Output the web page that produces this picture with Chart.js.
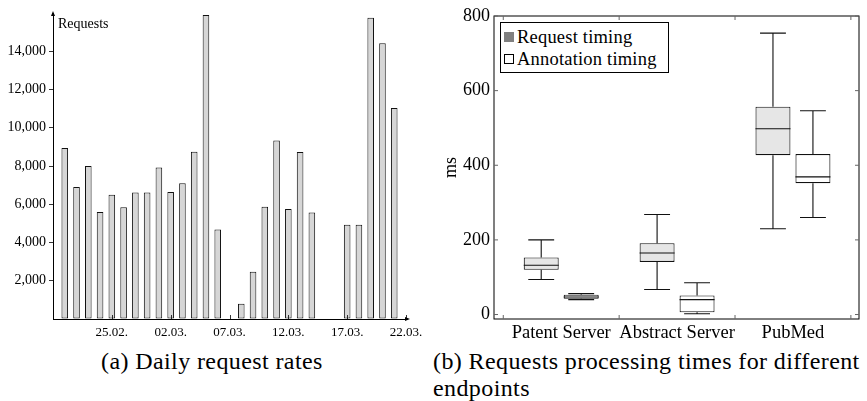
<!DOCTYPE html>
<html>
<head>
<meta charset="utf-8">
<script src="https://cdn.jsdelivr.net/npm/chart.js@4.4.1/dist/chart.umd.min.js"></script>
<style>
  html, body { margin: 0; padding: 0; background: #fff; }
  body { width: 867px; height: 401px; position: relative; overflow: hidden;
         font-family: 'Liberation Serif', 'DejaVu Serif', serif; color: #000; }
  .panel { position: absolute; top: 0; height: 345px; }
  #leftWrap { left: 0; width: 430px; }
  #rightWrap { left: 440px; width: 427px; }
  #reqLabel { position: absolute; left: 58px; top: 16px; font-size: 14px; line-height: 16px; }
  #legend { position: absolute; left: 500px; top: 22px; width: 169px; height: 51px;
            border: 1px solid #000; box-sizing: border-box; background: #fff;
            font-size: 18.5px; letter-spacing: 0.2px; padding-top: 3px; }
  #legend .row { height: 22px; line-height: 22px; white-space: nowrap; }
  #legend .sw { display: inline-block; width: 8px; height: 8px; border: 1px solid #000;
                margin: 0 3px 0 3px; vertical-align: 1px; background: #fff; }
  .caption { position: absolute; font-size: 24px; letter-spacing: 0.4px; line-height: 27px; white-space: nowrap; }
  #capA { left: 101px; top: 348px; }
  #capB { left: 433px; top: 348px; }
</style>
</head>
<body>
<div id="leftWrap" class="panel"><canvas id="requestsChart"></canvas></div>
<div id="rightWrap" class="panel"><canvas id="timingChart"></canvas></div>
<div id="reqLabel">Requests</div>
<div id="legend">
  <div class="row"><span class="sw" style="background:#808080;border-color:#808080"></span>Request timing</div>
  <div class="row"><span class="sw"></span>Annotation timing</div>
</div>
<div class="caption" id="capA">(a) Daily request rates</div>
<div class="caption" id="capB">(b) Requests processing times for different<br>endpoints</div>

<script>
// ---- (a) 每日请求量 ----
const days = [
  '20.02.', '21.02.', '22.02.', '23.02.', '24.02.', '25.02.', '26.02.', '27.02.', '28.02.',
  '01.03.', '02.03.', '03.03.', '04.03.', '05.03.', '06.03.', '07.03.', '08.03.', '09.03.',
  '10.03.', '11.03.', '12.03.', '13.03.', '14.03.', '15.03.', '16.03.', '17.03.', '18.03.',
  '19.03.', '20.03.', '21.03.', '22.03.'
];
const dailyRequests = [
  null, 8950, 6900, 8000, 5600, 6500, 5850, 6620, 6620,
  7930, 6640, 7100, 8750, 15900, 4680, null, 800, 2470,
  5870, 9340, 5750, 8740, 5570, null, null, 4930, 4930,
  15750, 14420, 11040, null
];
const shownDays = ['25.02.', '02.03.', '07.03.', '12.03.', '17.03.', '22.03.'];
const requestTicks = [0, 2000, 4000, 6000, 8000, 10000, 12000, 14000];

// ---- (b) 各端点处理时间（箱线图） ----
const endpoints = ['Patent Server', 'Abstract Server', 'PubMed'];
const reqMin    = [94, 67, 230];
const reqQ1     = [120, 141, 427];
const reqMedian = [132, 165, 498];
const reqQ3     = [153, 191, 557];
const reqMax    = [200, 268, 754];
const annMin    = [40, 2, 260];
const annQ1     = [42, 6, 352];
const annMedian = [47, 40, 369];
const annQ3     = [53, 51, 430];
const annMax    = [56, 85, 546];
const msTicks = [0, 200, 400, 600, 800];

Chart.defaults.font.family = "'Liberation Serif', 'DejaVu Serif', serif";
Chart.defaults.color = '#000';

// 左图：坐标轴箭头和向内的刻度
const axisArrows = {
  id: 'axisArrows',
  afterDraw(chart) {
    const { ctx, chartArea: { left, right, top, bottom }, scales: { x } } = chart;
    ctx.save();
    ctx.strokeStyle = '#000';
    ctx.fillStyle = '#000';
    ctx.lineWidth = 0.8;
    ctx.beginPath();
    days.forEach((d, i) => {
      if (!shownDays.includes(d)) return;
      const px = Math.round(x.getPixelForTick(i)) + 0.5;
      ctx.moveTo(px, bottom);
      ctx.lineTo(px, bottom - 4);
    });
    ctx.moveTo(left, top);
    ctx.lineTo(left, top - 2);
    ctx.moveTo(right, bottom);
    ctx.lineTo(right + 2, bottom);
    ctx.stroke();
    // 箭头
    ctx.beginPath();
    ctx.moveTo(left, top - 4);
    ctx.lineTo(left - 2, top + 1);
    ctx.lineTo(left + 2, top + 1);
    ctx.closePath();
    ctx.fill();
    ctx.beginPath();
    ctx.moveTo(right + 4, bottom);
    ctx.lineTo(right - 1, bottom - 2);
    ctx.lineTo(right - 1, bottom + 2);
    ctx.closePath();
    ctx.fill();
    ctx.restore();
  }
};

new Chart(document.getElementById('requestsChart'), {
  type: 'bar',
  data: {
    labels: days,
    datasets: [{
      label: 'Requests',
      data: dailyRequests,
      backgroundColor: 'rgb(214, 214, 214)',
      borderColor: '#111',
      borderWidth: 1,
      borderSkipped: false,
      barPercentage: 0.56,
      categoryPercentage: 1
    }]
  },
  options: {
    responsive: true,
    maintainAspectRatio: false,
    animation: false,
    events: [],
    layout: { padding: { left: 0, right: 24, top: 15, bottom: 0 } },
    plugins: { legend: { display: false }, tooltip: { enabled: false } },
    scales: {
      x: {
        offset: false,
        grid: { display: false, drawTicks: false },
        border: { display: true, color: '#000', width: 1 },
        ticks: {
          autoSkip: false,
          maxRotation: 0,
          padding: 6,
          font: { size: 13 },
          callback: (v, i) => shownDays.includes(days[i]) ? days[i] : ''
        },
        afterFit: (scale) => { scale.height = 26; }
      },
      y: {
        min: 0,
        max: 15900,
        grid: {
          drawOnChartArea: false,
          tickLength: 4,
          color: (c) => (c.tick && c.tick.value === 0) ? 'rgba(0,0,0,0)' : '#000',
          lineWidth: 0.8
        },
        border: { display: true, color: '#000', width: 1 },
        afterBuildTicks: (scale) => { scale.ticks = requestTicks.map(v => ({ value: v })); },
        ticks: {
          padding: 3,
          font: { size: 14 },
          callback: (v) => v === 0 ? '' : v.toLocaleString('en-US')
        },
        afterFit: (scale) => { scale.width = 53; }
      }
    }
  },
  plugins: [axisArrows]
});

// 右图：须线、中位线、外框及内向刻度
const boxWhiskers = {
  id: 'boxWhiskers',
  afterDatasetsDraw(chart) {
    const { ctx, scales: { y } } = chart;
    const groups = [
      { min: reqMin, q1: reqQ1, med: reqMedian, q3: reqQ3, max: reqMax },
      { min: annMin, q1: annQ1, med: annMedian, q3: annQ3, max: annMax }
    ];
    ctx.save();
    ctx.strokeStyle = '#111';
    ctx.lineWidth = 1.1;
    groups.forEach((g, di) => {
      chart.getDatasetMeta(di).data.forEach((bar, i) => {
        const { x, width } = bar.getProps(['x', 'width'], true);
        const half = width / 2;
        const cap = width * 0.37;
        const yMin = y.getPixelForValue(g.min[i]);
        const yQ1 = y.getPixelForValue(g.q1[i]);
        const yMed = y.getPixelForValue(g.med[i]);
        const yQ3 = y.getPixelForValue(g.q3[i]);
        const yMax = y.getPixelForValue(g.max[i]);
        ctx.beginPath();
        ctx.moveTo(x - half, yMed); ctx.lineTo(x + half, yMed);
        ctx.moveTo(x, yQ3); ctx.lineTo(x, yMax);
        ctx.moveTo(x - cap, yMax); ctx.lineTo(x + cap, yMax);
        ctx.moveTo(x, yQ1); ctx.lineTo(x, yMin);
        ctx.moveTo(x - cap, yMin); ctx.lineTo(x + cap, yMin);
        ctx.stroke();
      });
    });
    ctx.restore();
  },
  afterDraw(chart) {
    const { ctx, chartArea: { left, right, top, bottom }, scales: { x, y } } = chart;
    ctx.save();
    ctx.strokeStyle = '#000';
    ctx.lineWidth = 1;
    ctx.strokeRect(left, top, right - left, bottom - top);
    ctx.strokeStyle = '#666';
    ctx.beginPath();
    y.ticks.forEach((t) => {
      const py = y.getPixelForValue(t.value);
      ctx.moveTo(left, py); ctx.lineTo(left + 4, py);
      ctx.moveTo(right, py); ctx.lineTo(right - 4, py);
    });
    for (let k = 0; k <= endpoints.length; k++) {
      const px = x.getPixelForValue(k + 0.5);
      ctx.moveTo(px, bottom); ctx.lineTo(px, bottom - 4);
      ctx.moveTo(px, top); ctx.lineTo(px, top + 4);
    }
    ctx.stroke();
    ctx.restore();
  }
};

new Chart(document.getElementById('timingChart'), {
  type: 'bar',
  data: {
    datasets: [
      {
        label: 'Request timing',
        data: endpoints.map((e, i) => ({ x: i + 1, y: [reqQ1[i], reqQ3[i]] })),
        backgroundColor: 'rgb(230, 230, 230)',
        borderColor: '#111',
        borderWidth: 1.1,
        borderSkipped: false
      },
      {
        label: 'Annotation timing',
        data: endpoints.map((e, i) => ({ x: i + 1, y: [annQ1[i], annQ3[i]] })),
        backgroundColor: '#fff',
        borderColor: '#111',
        borderWidth: 1.1,
        borderSkipped: false
      }
    ]
  },
  options: {
    responsive: true,
    maintainAspectRatio: false,
    animation: false,
    events: [],
    categoryPercentage: 0.69,
    barPercentage: 0.875,
    layout: { padding: { left: 0, right: 8, top: 16, bottom: 0 } },
    plugins: { legend: { display: false }, tooltip: { enabled: false } },
    scales: {
      x: {
        type: 'linear',
        min: 0.42,
        max: 3.57,
        offset: false,
        grid: { display: false, drawTicks: false },
        border: { display: false },
        afterBuildTicks: (scale) => { scale.ticks = endpoints.map((e, i) => ({ value: i + 1 })); },
        ticks: {
          padding: 3,
          font: { size: 18.5 },
          callback: (v) => endpoints[Math.round(v) - 1] || ''
        },
        afterFit: (scale) => { scale.height = 26; }
      },
      y: {
        min: -12,
        max: 800,
        grid: { display: false, drawTicks: false },
        border: { display: false },
        title: { display: true, text: 'ms', font: { size: 18 }, padding: 0 },
        afterBuildTicks: (scale) => { scale.ticks = msTicks.map(v => ({ value: v })); },
        ticks: {
          padding: 4,
          font: { size: 18 }
        },
        afterFit: (scale) => { scale.width = 54; }
      }
    }
  },
  plugins: [boxWhiskers]
});
</script>
</body>
</html>
